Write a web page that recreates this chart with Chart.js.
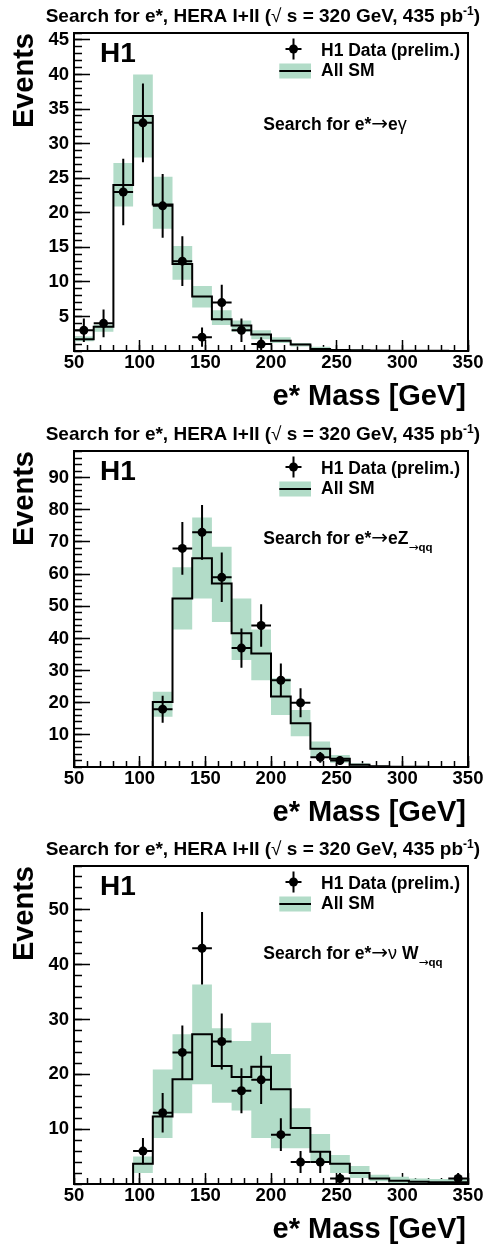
<!DOCTYPE html>
<html><head><meta charset="utf-8">
<script src="https://cdn.jsdelivr.net/npm/chart.js@4.4.0/dist/chart.umd.min.js"></script>
<style>
html,body{margin:0;padding:0;background:#fff;width:483px;height:1244px;overflow:hidden;}
canvas{position:absolute;left:0;}
</style></head><body>
<canvas id="c1" width="483" height="415" style="top:0px"></canvas>
<canvas id="c2" width="483" height="415" style="top:417px"></canvas>
<canvas id="c3" width="483" height="411" style="top:833px"></canvas>
<script>
// ---------- categories: mass bins (GeV) ----------
const binLow   = [50,65,80,95,110,125,140,155,170,185,200,215,230,245,260,275,290,305,320,335];
const binWidth = 15;
const xTickValues = [50,100,150,200,250,300,350];

// ---------- e* -> e gamma ----------
const smEG     = [1.7,3.5,24.0,34.0,21.2,12.6,7.9,4.6,3.7,2.4,1.5,0.95,0.3,0.15,0.1,0.06,0.04,0.03,0.02,0.01];
const smEG_lo  = [1.4,2.8,20.9,28.0,17.7,10.3,6.3,3.75,2.8,1.7,1.15,0.65,0.15,0.05,0.03,0.02,0.01,0,0,0];
const smEG_hi  = [2.1,3.8,27.2,40.0,25.2,15.2,9.4,5.9,4.4,3.0,2.0,1.15,0.6,0.3,0.2,0.12,0.08,0.06,0.04,0.03];
const dataEG     = [3,4,23,33,21,13,2,7,3,1,null,null,null,null,null,null,null,null,null,null];
const dataEG_err = [1.7,2.0,4.8,5.7,4.6,3.6,1.4,2.6,1.7,1.0,null,null,null,null,null,null,null,null,null,null];
const yTicksEG = [5,10,15,20,25,30,35,40,45];

// ---------- e* -> eZ(->qq) ----------
const smEZ     = [0,0,0,0,20.2,52.4,64.9,57.1,41.6,35.3,21.9,13.6,5.7,2.6,0.7,0.2,0.1,0.05,0.02,0.01];
const smEZ_lo  = [0,0,0,0,15.6,42.8,52.4,45.1,33.3,27.0,16.2,9.6,3.2,1.3,0.3,0.05,0.02,0,0,0];
const smEZ_hi  = [0,0,0,0,23.4,62.1,77.6,68.5,52.4,42.8,27.6,17.7,7.9,3.7,1.2,0.4,0.2,0.1,0.05,0.02];
const dataEZ     = [null,null,null,null,18,68,73,59,37,44,27,20,3,2,null,null,null,null,null,null];
const dataEZ_err = [null,null,null,null,4.2,8.2,8.5,7.7,6.1,6.6,5.2,4.5,1.7,1.4,null,null,null,null,null,null];
const yTicksEZ = [10,20,30,40,50,60,70,80,90];

// ---------- e* -> nu W(->qq) ----------
const smNW     = [0,0,0,3.7,12.3,19.1,27.3,21.5,19.5,21.4,17.3,10.2,5.9,3.7,2.0,1.0,0.6,0.4,0.3,0.3];
const smNW_lo  = [0,0,0,2.0,8.4,12.9,18.2,14.8,13.4,8.4,6.5,6.5,4.1,2.0,1.1,0.5,0.2,0.15,0.1,0.1];
const smNW_hi  = [0,0,0,5.0,20.9,27.3,36.4,28.4,26.1,29.4,23.7,13.8,9.1,5.3,3.3,1.7,1.3,1.0,0.9,0.9];
const dataNW     = [null,null,null,6,13,24,43,26,17,19,9,4,4,1,null,null,null,null,null,1];
const dataNW_err = [null,null,null,2.4,3.6,4.9,6.6,5.1,4.1,4.4,3.0,2.0,2.0,1.0,null,null,null,null,null,1.0];
const yTicksNW = [10,20,30,40,50];

// ---------- styling ----------
const FONT = "'Liberation Sans', Arial, Helvetica, sans-serif";
const SYM = "'DejaVu Sans', sans-serif";
const GREEN = 'rgb(178,220,200)';
Chart.defaults.font.family = FONT;
Chart.defaults.color = '#000';
const B = s => 'bold ' + s + 'px ' + FONT;
const N = s => s + 'px ' + FONT;
const S = s => s + 'px ' + SYM;

function runsWidth(ctx, runs){ let w=0; for(const r of runs){ ctx.font=r.f; w+=ctx.measureText(r.t).width; } return w; }
function drawRuns(ctx, runs, x, y, align){
  let cx = align==='right' ? x - runsWidth(ctx, runs) : x;
  ctx.textAlign='left'; ctx.textBaseline='alphabetic';
  for(const r of runs){ ctx.font=r.f; ctx.fillText(r.t, cx, y+(r.dy||0)); cx+=ctx.measureText(r.t).width; }
}
const titleRuns = [
  {t:'Search for e*, HERA I+II (', f:B(19)},
  {t:'\u221A', f:N(19)},
  {t:' s = 320 GeV, 435 pb', f:B(19)},
  {t:'-1', f:B(12), dy:-7},
  {t:')', f:B(19)}
];

const edgesX = binLow.concat([binLow[binLow.length-1] + binWidth]);
function stepPts(vals){ return edgesX.map((x,i)=>({x:x, y:vals[Math.min(i, vals.length-1)]})); }
function dataPts(vals){ const out=[]; vals.forEach((v,i)=>{ if(v!=null) out.push({x:binLow[i]+binWidth/2, y:v}); }); return out; }

function makeDecor(p){
  return {
    id:'decor',
    beforeDatasetDraw(chart, args){
      if(args.index!==3) return;
      const xs=chart.scales.x, ys=chart.scales.y, ctx=chart.ctx;
      ctx.save(); ctx.strokeStyle='#000'; ctx.lineWidth=2;
      p.data.forEach((v,i)=>{
        if(v==null) return;
        const xa=xs.getPixelForValue(binLow[i]), xb=xs.getPixelForValue(binLow[i]+binWidth);
        const xc=xs.getPixelForValue(binLow[i]+binWidth/2), yv=ys.getPixelForValue(v);
        ctx.beginPath();
        ctx.moveTo(xa,yv); ctx.lineTo(xb,yv);
        ctx.moveTo(xc, ys.getPixelForValue(Math.max(0, v-p.err[i])));
        ctx.lineTo(xc, ys.getPixelForValue(v+p.err[i]));
        ctx.stroke();
      });
      ctx.restore();
    },
    afterDraw(chart){
      const ctx=chart.ctx, a=chart.chartArea;
      ctx.save();
      ctx.fillStyle='#000'; ctx.strokeStyle='#000';
      // frame
      ctx.lineWidth=2; ctx.strokeRect(a.left, a.top, a.right-a.left, a.bottom-a.top);
      // title
      drawRuns(ctx, titleRuns, 480, a.top-11.5, 'right');
      // y title
      ctx.save(); ctx.translate(33, a.top); ctx.rotate(-Math.PI/2);
      ctx.font=B(29); ctx.textAlign='right'; ctx.textBaseline='alphabetic';
      ctx.fillText('Events', 0, 0); ctx.restore();
      // x title
      ctx.font=B(29); ctx.textAlign='right'; ctx.textBaseline='alphabetic';
      ctx.fillText('e* Mass [GeV]', a.right-2, a.bottom+54);
      // H1
      ctx.font=B(28); ctx.textAlign='left';
      ctx.fillText('H1', a.left+26, a.top+29);
      // legend: data
      const mx=a.right-174.5, my=a.top+16;
      ctx.lineWidth=2; ctx.beginPath();
      ctx.moveTo(mx, my-10.5); ctx.lineTo(mx, my+10.5);
      ctx.moveTo(mx-8, my); ctx.lineTo(mx+8, my); ctx.stroke();
      ctx.beginPath(); ctx.arc(mx, my, 4.5, 0, Math.PI*2); ctx.fill();
      ctx.font=B(17.5); ctx.fillText('H1 Data (prelim.)', a.right-147, a.top+23);
      // legend: SM
      ctx.fillStyle=GREEN; ctx.fillRect(a.right-188.7, a.top+30.5, 31.7, 15);
      ctx.fillStyle='#000'; ctx.beginPath();
      ctx.moveTo(a.right-188.7, a.top+38); ctx.lineTo(a.right-157, a.top+38); ctx.stroke();
      ctx.fillText('All SM', a.right-147, a.top+42.5);
      // channel label
      drawRuns(ctx, p.channel, a.left+189.3, a.top+p.chanY, 'left');
      ctx.restore();
    }
  };
}

function makeChart(id, p){
  const ctxEl = document.getElementById(id);
  const H = ctxEl.height;
  return new Chart(ctxEl, {
    type:'line',
    data:{ datasets:[
      {data:stepPts(p.hi), stepped:true, borderWidth:0, pointRadius:0, fill:'+1', backgroundColor:GREEN, borderColor:'rgba(0,0,0,0)', order:3},
      {data:stepPts(p.lo), stepped:true, borderWidth:0, pointRadius:0, fill:false, borderColor:'rgba(0,0,0,0)', order:3},
      {data:stepPts(p.sm), stepped:true, borderWidth:2, pointRadius:0, fill:false, borderColor:'#000', borderJoinStyle:'miter', order:2},
      {data:dataPts(p.data), showLine:false, pointRadius:4.5, pointBackgroundColor:'#000', pointBorderWidth:0, borderColor:'#000', order:1}
    ]},
    options:{
      responsive:false, animation:false, events:[],
      layout:{padding:{top:p.top, right:15, left:0, bottom:0}},
      plugins:{legend:{display:false}, tooltip:{enabled:false}, title:{display:false}},
      scales:{
        x:{type:'linear', axis:'x', position:'bottom', min:50, max:350, weight:1,
           afterBuildTicks:s=>{ s.ticks = xTickValues.map(v=>({value:v})); },
           ticks:{font:{size:18.5, weight:'bold'}, color:'#000', padding:11.5, maxRotation:0, autoSkip:false},
           grid:{drawOnChartArea:false, tickLength:-11, tickColor:'#000', tickWidth:1.5},
           border:{color:'#000', width:2},
           afterFit:s=>{ s.height = H - p.bottom; s.paddingLeft = 0; s.paddingRight = 0; }},
        xMinor:{type:'linear', axis:'x', position:'bottom', min:50, max:350, weight:0,
           ticks:{stepSize:10, display:false},
           grid:{drawOnChartArea:false, tickLength:-6, tickColor:'#000', tickWidth:1.5},
           border:{display:false},
           afterFit:s=>{ s.height = 0; s.paddingLeft = 0; s.paddingRight = 0; }},
        y:{type:'linear', axis:'y', position:'left', min:0, max:p.ymax, weight:1,
           afterBuildTicks:s=>{ s.ticks = p.yTicks.map(v=>({value:v})); },
           ticks:{font:{size:18.5, weight:'bold'}, color:'#000', padding:21, autoSkip:false},
           grid:{drawOnChartArea:false, tickLength:-16, tickColor:'#000', tickWidth:1.5},
           border:{color:'#000', width:2},
           afterFit:s=>{ s.width = 74; s.paddingTop = 0; s.paddingBottom = 0; }},
        yMinor:{type:'linear', axis:'y', position:'left', min:0, max:p.ymax, weight:0,
           ticks:{stepSize:p.minorStep, display:false, includeBounds:false},
           grid:{drawOnChartArea:false, tickLength:-8, tickColor:'#000', tickWidth:1.5},
           border:{display:false},
           afterFit:s=>{ s.width = 0; s.paddingTop = 0; s.paddingBottom = 0; }}
      }
    },
    plugins:[makeDecor(p)]
  });
}

const chanBase = [{t:'Search for e*', f:B(17.5)}, {t:'\u2192', f:S(20)}];

makeChart('c1', {sm:smEG, lo:smEG_lo, hi:smEG_hi, data:dataEG, err:dataEG_err, yTicks:yTicksEG,
  ymax:46, minorStep:1, top:33, bottom:351, chanY:96.7,
  channel: chanBase.concat([{t:'e', f:B(17.5)}, {t:'\u03B3', f:N(18)}])});
makeChart('c2', {sm:smEZ, lo:smEZ_lo, hi:smEZ_hi, data:dataEZ, err:dataEZ_err, yTicks:yTicksEZ,
  ymax:98.3, minorStep:2, top:34, bottom:350, chanY:92.6,
  channel: chanBase.concat([{t:'eZ', f:B(17.5)}, {t:'\u2192', f:S(12), dy:7}, {t:'qq', f:B(11.5), dy:7}])});
makeChart('c3', {sm:smNW, lo:smNW_lo, hi:smNW_hi, data:dataNW, err:dataNW_err, yTicks:yTicksNW,
  ymax:58, minorStep:2, top:33, bottom:351, chanY:93.3,
  channel: chanBase.concat([{t:'\u03BD', f:N(18)}, {t:' W', f:B(17.5)}, {t:'\u2192', f:S(12), dy:7}, {t:'qq', f:B(11.5), dy:7}])});
</script>
</body></html>
